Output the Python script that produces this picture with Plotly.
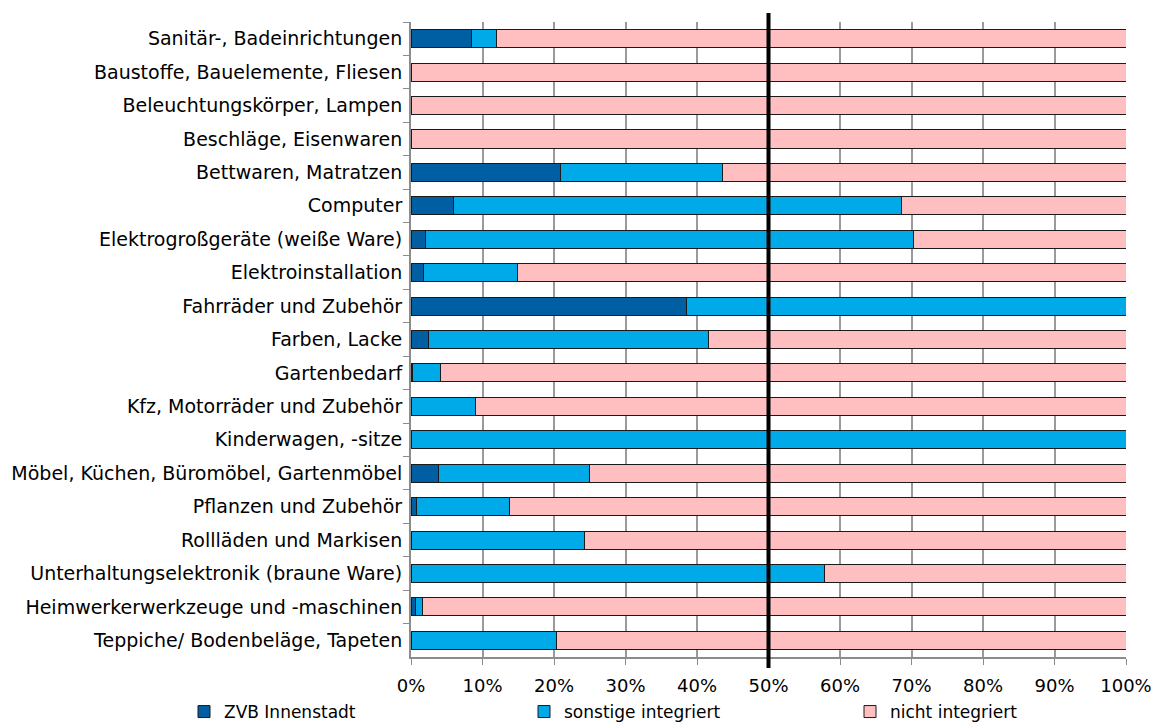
import plotly.graph_objects as go

categories = [
    "Sanitär-, Badeinrichtungen",
    "Baustoffe, Bauelemente, Fliesen",
    "Beleuchtungskörper, Lampen",
    "Beschläge, Eisenwaren",
    "Bettwaren, Matratzen",
    "Computer",
    "Elektrogroßgeräte (weiße Ware)",
    "Elektroinstallation",
    "Fahrräder und Zubehör",
    "Farben, Lacke",
    "Gartenbedarf",
    "Kfz, Motorräder und Zubehör",
    "Kinderwagen, -sitze",
    "Möbel, Küchen, Büromöbel, Gartenmöbel",
    "Pflanzen und Zubehör",
    "Rollläden und Markisen",
    "Unterhaltungselektronik (braune Ware)",
    "Heimwerkerwerkzeuge und -maschinen",
    "Teppiche/ Bodenbeläge, Tapeten",
]

zvb_innenstadt = [8.4, 0, 0, 0, 20.9, 5.9, 2.0, 1.8, 38.6, 2.4, 0.2, 0, 0, 3.8, 0.7, 0, 0, 0.6, 0]
sonstige_integriert = [3.6, 0, 0, 0, 22.6, 62.7, 68.3, 13.1, 61.4, 39.2, 3.9, 9.0, 100, 21.1, 13.1, 24.3, 57.9, 1.0, 20.4]
nicht_integriert = [88.0, 100, 100, 100, 56.5, 31.4, 29.7, 85.1, 0, 58.4, 95.9, 91.0, 0, 75.1, 86.2, 75.7, 42.1, 98.4, 79.6]

series = [
    ("ZVB Innenstadt", zvb_innenstadt, "#005ea3", "legend"),
    ("sonstige integriert", sonstige_integriert, "#00a9e8", "legend2"),
    ("nicht integriert", nicht_integriert, "#ffbfc1", "legend3"),
]

font_family = "DejaVu Sans"
W, H = 1155, 724

fig = go.Figure()
for name, values, color, legend_id in series:
    fig.add_trace(go.Bar(
        y=categories,
        x=[v / 100 for v in values],
        name=name,
        orientation="h",
        legend=legend_id,
        marker=dict(color=color, line=dict(color="#1a1a1a", width=1)),
        hoverinfo="x+y+name",
    ))

# Thick reference line at the 50 % mark
plot_top, plot_bottom = 22, 657
span = plot_bottom - plot_top
fig.add_shape(
    type="line", xref="x", yref="paper",
    x0=0.5, x1=0.5,
    y0=-(668 - plot_bottom) / span, y1=1 + (plot_top - 13) / span,
    line=dict(color="black", width=4),
)


def legend_box(left_px):
    return dict(
        orientation="h",
        xref="container", yref="container",
        x=left_px / W, xanchor="left",
        y=12 / H, yanchor="middle",
        font=dict(size=17),
        bgcolor="rgba(0,0,0,0)",
        itemwidth=30,
    )


fig.update_layout(
    barmode="stack",
    bargap=0.46,
    width=W,
    height=H,
    margin=dict(l=411, r=29, t=plot_top, b=H - plot_bottom, autoexpand=False),
    plot_bgcolor="white",
    paper_bgcolor="white",
    font=dict(family=font_family, size=18, color="black"),
    showlegend=True,
    legend=legend_box(184),
    legend2=legend_box(524),
    legend3=legend_box(850),
    xaxis=dict(
        range=[0, 1],
        tickvals=[i / 10 for i in range(11)],
        ticktext=[f"{i * 10}%" for i in range(11)],
        showgrid=True,
        gridcolor="#9a9a9a",
        gridwidth=1.5,
        showline=True,
        linecolor="#8c8c8c",
        linewidth=2,
        ticks="outside",
        ticklen=6,
        tickcolor="#8c8c8c",
        tickfont=dict(size=18),
        ticklabelstandoff=5,
        zeroline=False,
    ),
    yaxis=dict(
        categoryorder="array",
        categoryarray=categories,
        autorange="reversed",
        showgrid=False,
        showline=True,
        linecolor="#8c8c8c",
        linewidth=2,
        ticks="outside",
        tickson="boundaries",
        ticklen=6,
        tickcolor="#8c8c8c",
        tickfont=dict(size=19),
        ticklabelstandoff=3,
    ),
)

fig.write_html("out.html")
